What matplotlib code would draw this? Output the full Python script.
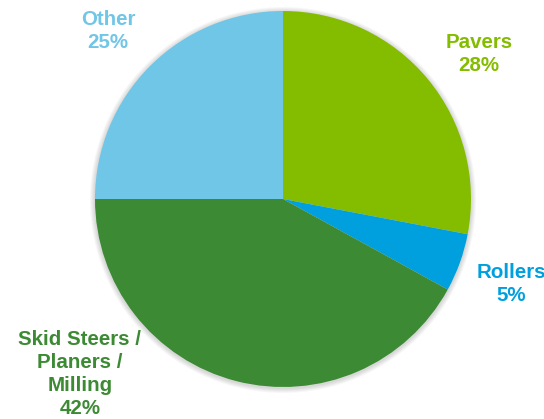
import matplotlib
matplotlib.use('Agg')
import matplotlib.pyplot as plt
from matplotlib.patches import Circle

# equipment mix shares
categories = ['Pavers', 'Rollers', 'Skid Steers /\nPlaners /\nMilling', 'Other']
shares = [28, 5, 42, 25]
colors = ['#84BD00', '#00A0DF', '#3C8A34', '#70C6E6']

# label anchor points (pixel space of the figure)
label_pos = [(479, 365), (511, 135), (80, 45), (108, 388)]

plt.rcParams['font.family'] = ['Liberation Sans', 'DejaVu Sans']

fig = plt.figure(figsize=(5.44, 4.19), dpi=100)
ax = fig.add_axes([0, 0, 1, 1])

cx, cy, r = 283, 220, 188

# soft shadow behind the pie
for i in range(5):
    ax.add_patch(Circle((cx, cy - 1), r + 5 - i, color='black', alpha=0.03, lw=0, zorder=0))

ax.pie(shares, colors=colors, startangle=90, counterclock=False,
       center=(cx, cy), radius=r, frame=True,
       wedgeprops=dict(linewidth=0))
ax.set_xlim(0, 544)
ax.set_ylim(0, 419)
ax.set_aspect('equal')
ax.axis('off')

for name, val, col, (x, y) in zip(categories, shares, colors, label_pos):
    ax.text(x, y, f'{name}\n{val}%', color=col, fontsize=14.8, fontweight='bold',
            ha='center', va='center', linespacing=1.25)

fig.savefig('out.png', dpi=100)
